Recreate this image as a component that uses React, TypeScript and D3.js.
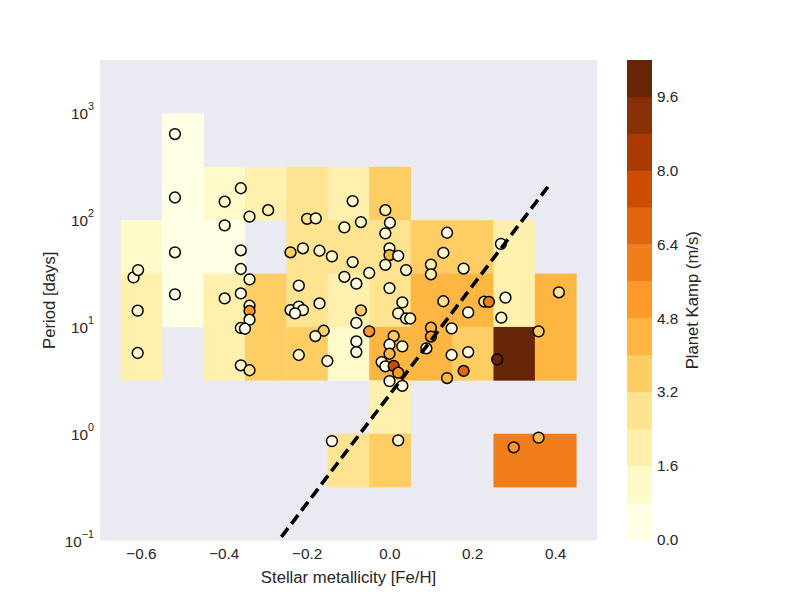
import React from 'react';
import * as d3 from 'd3';

// scatter points: metallicity, period (days), planet K amplitude (m/s)
const pointFeh = [
  -0.619, -0.608, -0.609, -0.609, -0.519, -0.519, -0.519, -0.519, -0.36, -0.399, -0.339, -0.399, -0.294,
  -0.36, -0.36, -0.339, -0.399, -0.36, -0.339, -0.339, -0.339, -0.36, -0.35, -0.36, -0.339,
  -0.2, -0.179, -0.09, -0.11, -0.07, -0.011, 0.0, -0.011, -0.24, -0.21, -0.17, -0.14, -0.09, -0.11, -0.081,
  -0.05, -0.001, -0.001, 0.02, -0.011, 0.039, -0.22, -0.001,
  0.138, 0.129, 0.099, 0.099, 0.178, 0.268, 0.408, 0.129, 0.189, 0.228, 0.239, 0.279, 0.269, 0.099, 0.149,
  0.099, 0.359,
  -0.17, -0.24, -0.22, -0.21, -0.229, 0.03, 0.02, 0.039, 0.049, -0.07, -0.081, -0.16, -0.18, -0.05, 0.009,
  -0.001, 0.03, -0.001, -0.081, -0.081, -0.22, -0.151, -0.02, -0.011, 0.009, 0.02, -0.001, 0.03, -0.14, 0.02,
  0.088, 0.149, 0.189, 0.178, 0.138, 0.259, 0.299, 0.359,
];
const pointPeriod = [
  29.1, 34.1, 14.2, 5.7, 640, 163, 50.0, 20.2, 199, 149, 108, 89.4, 124,
  52.2, 34.9, 27.9, 18.5, 20.6, 15.8, 14.1, 11.7, 9.77, 9.62, 4.37, 3.93,
  103, 104, 151, 85.6, 96.0, 124, 94.6, 75.2, 50.0, 54.5, 51.7, 45.8, 40.5, 29.5, 25.4,
  32.0, 54.5, 47.1, 46.4, 38.2, 34.1, 24.4, 23.1,
  76.2, 49.5, 38.4, 31.1, 35.2, 60.0, 21.1, 17.4, 13.7, 17.3, 17.2, 18.8, 12.2, 9.84, 9.7,
  8.13, 9.09,
  16.6, 14.4, 15.5, 14.4, 13.4, 17.0, 13.4, 12.0, 12.0, 14.3, 10.9, 9.21, 8.22, 9.1, 8.22,
  6.81, 6.58, 5.61, 7.32, 5.82, 5.46, 4.8, 4.69, 4.28, 4.31, 3.73, 3.11, 2.81, 0.853, 0.867,
  6.31, 5.46, 5.82, 3.87, 3.32, 4.97, 0.746, 0.92,
];
const pointKamp = [
  1.2, 1.2, 1.2, 1.2, 0.3, 0.3, 0.3, 0.3, 1.2, 1.2, 1.2, 0.3, 2.0,
  0.3, 0.3, 1.2, 1.2, 0.3, 1.2, 5.2, 0.3, 0.3, 0.3, 1.2, 2.8,
  2.8, 1.2, 1.2, 1.2, 1.2, 2.0, 0.3, 1.2, 3.6, 1.2, 1.2, 1.2, 1.2, 1.2, 0.3,
  1.2, 1.2, 4.4, 0.3, 1.2, 1.2, 0.3, 1.2,
  0.3, 1.2, 2.0, 2.0, 1.2, 0.3, 2.8, 2.8, 0.3, 2.8, 6.0, 0.3, 1.2, 4.4, 0.3,
  5.2, 3.6,
  1.2, 1.2, 0.3, 1.2, 0.3, 1.2, 1.2, 1.2, 1.2, 3.6, 0.3, 3.6, 1.2, 5.2, 3.6,
  0.3, 1.2, 4.4, 0.3, 0.3, 1.2, 0.3, 0.3, 0.3, 7.6, 5.2, 0.3, 0.3, 0.3, 1.2,
  0.3, 0.3, 0.3, 6.8, 4.4, 10.0, 5.2, 4.4,
];

// binned mean amplitude: bin centre in [Fe/H], lower edge of log10(period) bin, value
const cellFeh = [
  -0.5,
  -0.5, -0.4, -0.3, -0.2, -0.1, 0.0,
  -0.6, -0.5, -0.4, -0.2, -0.1, 0.0, 0.1, 0.2, 0.3,
  -0.6, -0.5, -0.4, -0.3, -0.2, -0.1, 0.0, 0.1, 0.2, 0.3, 0.4,
  -0.6, -0.4, -0.3, -0.2, -0.1, 0.0, 0.1, 0.2, 0.3, 0.4,
  0.0,
  -0.1, 0.0, 0.3, 0.4,
];
const cellLogP = [
  2.5,
  2.0, 2.0, 2.0, 2.0, 2.0, 2.0,
  1.5, 1.5, 1.5, 1.5, 1.5, 1.5, 1.5, 1.5, 1.5,
  1.0, 1.0, 1.0, 1.0, 1.0, 1.0, 1.0, 1.0, 1.0, 1.0, 1.0,
  0.5, 0.5, 0.5, 0.5, 0.5, 0.5, 0.5, 0.5, 0.5, 0.5,
  0.0,
  -0.5, -0.5, -0.5, -0.5,
];
const cellKamp = [
  0.4,
  0.4, 1.2, 2.0, 2.8, 2.0, 3.6,
  1.2, 0.4, 0.4, 2.8, 2.8, 2.8, 3.6, 3.6, 2.0,
  2.0, 0.4, 2.0, 3.6, 2.8, 2.0, 2.8, 4.4, 4.4, 2.0, 4.4,
  2.0, 2.0, 3.6, 3.6, 1.2, 4.4, 4.4, 3.6, 10.0, 4.4,
  2.0,
  2.8, 3.6, 6.0, 6.0,
];

// dashed trend line end points
const lineFeh = [-0.262, 0.388];
const linePeriod = [0.108, 222];

const xTicks = [-0.6, -0.4, -0.2, 0.0, 0.2, 0.4];
const yTickExp = [-1, 0, 1, 2, 3];
const cbarLevels = [0, 0.8, 1.6, 2.4, 3.2, 4.0, 4.8, 5.6, 6.4, 7.2, 8.0, 8.8, 9.6, 10.4];
const cbarTicks = [0.0, 1.6, 3.2, 4.8, 6.4, 8.0, 9.6];

const ylorbr = ['#ffffe5', '#fff7bc', '#fee391', '#fec44f', '#fe9929', '#ec7014', '#cc4c02', '#993404', '#662506'];

const FONT = '"Liberation Sans", Arial, sans-serif';
const INK = '#262626';

export default function App() {
  const left = 100, right = 597, top = 60, bottom = 540.5;

  const x = d3.scaleLinear().domain([-0.7, 0.5]).range([left, right]);
  const y = d3.scaleLog().domain([0.1, Math.pow(10, 3.5)]).range([bottom, top]);

  const cmap = d3.scaleLinear<string>()
    .domain(ylorbr.map((_, i) => i / (ylorbr.length - 1)))
    .range(ylorbr)
    .interpolate(d3.interpolateRgb);
  const nBands = cbarLevels.length - 1;
  const bandColors = d3.range(nBands).map(i => cmap(i / (nBands - 1)));
  const color = d3.scaleThreshold<number, string>()
    .domain(cbarLevels.slice(1, -1))
    .range(bandColors);

  const cb = d3.scaleLinear().domain([0, 10.4]).range([539.5, 60]);
  const cbX = 627, cbW = 25;

  const line = d3.line<number>()
    .x((_, i) => x(lineFeh[i]))
    .y((_, i) => y(linePeriod[i]));

  return (
    <svg width={800} height={600} style={{ position: 'absolute', left: 0, top: 0 }}>
      <rect x={0} y={0} width={800} height={600} fill="#ffffff" />
      <rect x={left} y={top} width={right - left} height={bottom - top} fill="#EAEAF2" />

      {cellFeh.map((f, i) => {
        const x0 = x(f - 0.05), x1 = x(f + 0.05);
        const y0 = y(Math.pow(10, cellLogP[i] + 0.5)), y1 = y(Math.pow(10, cellLogP[i]));
        return (
          <rect key={'c' + i} x={x0} y={y0} width={x1 - x0 + 0.3} height={y1 - y0 + 0.3}
            fill={color(cellKamp[i])} />
        );
      })}

      {pointFeh.map((f, i) => (
        <circle key={'p' + i} cx={x(f)} cy={y(pointPeriod[i])} r={5.4}
          fill={color(pointKamp[i])} stroke="#000" strokeWidth={1.5} />
      ))}

      <path d={line(lineFeh) || ''} fill="none" stroke="#000" strokeWidth={3.6}
        strokeDasharray="11,5.5" />

      {xTicks.map(t => (
        <text key={'xt' + t} x={x(t)} y={558.5} textAnchor="middle" fontFamily={FONT}
          fontSize={15.3} fill={INK}>
          {t < 0 ? '\u2212' + Math.abs(t).toFixed(1) : t.toFixed(1)}
        </text>
      ))}
      <text x={(left + right) / 2} y={583} textAnchor="middle" fontFamily={FONT}
        fontSize={16.7} fill={INK}>Stellar metallicity [Fe/H]</text>

      {yTickExp.map(e => (
        <text key={'yt' + e} x={94} y={y(Math.pow(10, e)) + 6} textAnchor="end"
          fontFamily={FONT} fontSize={15.3} fill={INK}>
          10
          <tspan dy={-9} fontSize={10.7}>{e < 0 ? '\u2212' + Math.abs(e) : String(e)}</tspan>
        </text>
      ))}
      <text transform={`translate(55,${(top + bottom) / 2}) rotate(-90)`} textAnchor="middle"
        fontFamily={FONT} fontSize={16.7} fill={INK}>Period [days]</text>

      {bandColors.map((c, i) => (
        <rect key={'b' + i} x={cbX} width={cbW} y={cb(cbarLevels[i + 1])}
          height={cb(cbarLevels[i]) - cb(cbarLevels[i + 1]) + 0.3} fill={c} />
      ))}
      {cbarTicks.map(t => (
        <text key={'ct' + t} x={657} y={cb(t) + 5.5} fontFamily={FONT} fontSize={15.3}
          fill={INK}>{t.toFixed(1)}</text>
      ))}
      <text transform={`translate(698,${(top + bottom) / 2}) rotate(-90)`} textAnchor="middle"
        fontFamily={FONT} fontSize={16.7} fill={INK}>Planet Kamp (m/s)</text>
    </svg>
  );
}
